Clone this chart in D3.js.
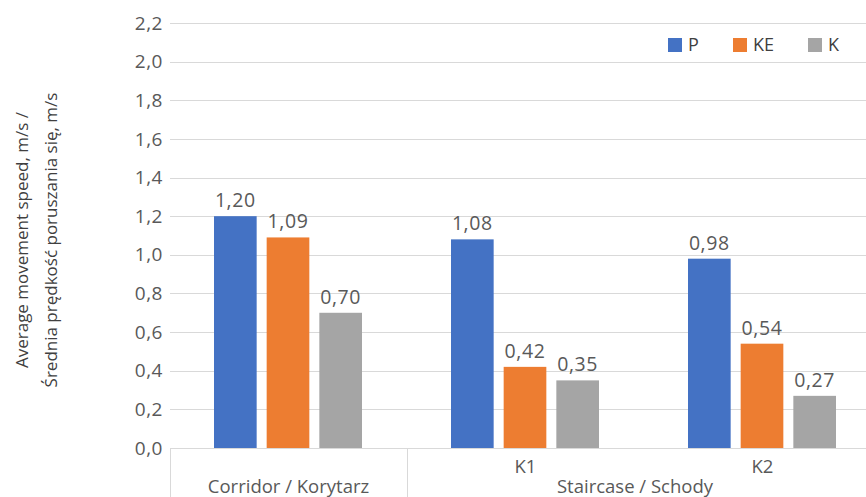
<!DOCTYPE html>
<html>
<head>
<meta charset="utf-8">
<script src="https://cdn.jsdelivr.net/npm/d3@7"></script>
<style>
  body { margin: 0; background: #fff; }
  svg text { font-family: "Open Sans", sans-serif; fill: #595959; }
</style>
</head>
<body>
<svg id="chart" width="866" height="497"></svg>
<script>
// data
var categories = ["Corridor", "K1", "K2"];
var series = ["P", "KE", "K"];
var valuesP = [1.20, 1.08, 0.98];
var valuesKE = [1.09, 0.42, 0.54];
var valuesK = [0.70, 0.35, 0.27];
var yTicks = [0, 0.2, 0.4, 0.6, 0.8, 1.0, 1.2, 1.4, 1.6, 1.8, 2.0, 2.2];
var subLabels = ["", "K1", "K2"];
var groupLabels = [
  { name: "Corridor / Korytarz", from: "Corridor", to: "Corridor" },
  { name: "Staircase / Schody", from: "K1", to: "K2" }
];

var colors = { P: "#4472C4", KE: "#ED7D31", K: "#A5A5A5" };

var svg = d3.select("#chart");
var plotLeft = 170, plotRight = 881, plotTop = 23, plotBottom = 448;

var x0 = d3.scaleBand().domain(categories).range([plotLeft, plotRight]).padding(0);
var x1 = d3.scaleBand().domain(series).range([44, x0.bandwidth() - 45]).paddingInner(0.19);
var y = d3.scaleLinear().domain([0, 2.2]).range([plotBottom, plotTop]);

var fmt = function(v, n) { return v.toFixed(n).replace(".", ","); };

// gridlines
svg.append("g")
  .selectAll("line")
  .data(yTicks.slice(1))
  .enter().append("line")
  .attr("x1", plotLeft).attr("x2", plotRight)
  .attr("y1", function(d) { return Math.round(y(d)) + 0.5; })
  .attr("y2", function(d) { return Math.round(y(d)) + 0.5; })
  .style("stroke", "#D9D9D9")
  .style("stroke-width", 1);

// y tick labels
svg.append("g")
  .selectAll("text")
  .data(yTicks)
  .enter().append("text")
  .attr("x", 163)
  .attr("y", function(d) { return y(d); })
  .attr("dy", "0.35em")
  .style("text-anchor", "end")
  .style("font-size", "19px")
  .style("letter-spacing", "0.5px")
  .text(function(d) { return fmt(d, 1); });

// bars
var rows = categories.map(function(c, i) {
  return { name: c, vals: [
    { key: "P", value: valuesP[i] },
    { key: "KE", value: valuesKE[i] },
    { key: "K", value: valuesK[i] }
  ] };
});

var group = svg.selectAll(".cat")
  .data(rows)
  .enter().append("g")
  .attr("class", "cat")
  .attr("transform", function(d) { return "translate(" + x0(d.name) + ",0)"; });

group.selectAll("rect")
  .data(function(d) { return d.vals; })
  .enter().append("rect")
  .attr("x", function(d) { return x1(d.key); })
  .attr("width", x1.bandwidth())
  .attr("y", function(d) { return y(d.value); })
  .attr("height", function(d) { return plotBottom - y(d.value); })
  .style("fill", function(d) { return colors[d.key]; });

group.selectAll("text.val")
  .data(function(d) { return d.vals; })
  .enter().append("text")
  .attr("class", "val")
  .attr("x", function(d) { return x1(d.key) + x1.bandwidth() / 2; })
  .attr("y", function(d) { return y(d.value) - 9; })
  .style("text-anchor", "middle")
  .style("font-size", "19.5px")
  .style("letter-spacing", "0.6px")
  .text(function(d) { return fmt(d.value, 2); });

// category axis
svg.append("line")
  .attr("x1", plotLeft).attr("x2", plotRight)
  .attr("y1", plotBottom + 0.5).attr("y2", plotBottom + 0.5)
  .style("stroke", "#D9D9D9");

[plotLeft, x0("K1")].forEach(function(xv) {
  svg.append("line")
    .attr("x1", xv + 0.5).attr("x2", xv + 0.5)
    .attr("y1", plotBottom).attr("y2", 497)
    .style("stroke", "#D9D9D9");
});

svg.append("g")
  .selectAll("text")
  .data(categories)
  .enter().append("text")
  .attr("x", function(d) { return x0(d) + x0.bandwidth() / 2; })
  .attr("y", 473)
  .style("text-anchor", "middle")
  .style("font-size", "18.5px")
  .text(function(d, i) { return subLabels[i]; });

svg.append("g")
  .selectAll("text")
  .data(groupLabels)
  .enter().append("text")
  .attr("x", function(d) { return (x0(d.from) + x0(d.to) + x0.bandwidth()) / 2 - (d.from === d.to ? 0 : 9); })
  .attr("y", 493)
  .style("text-anchor", "middle")
  .style("font-size", "18.5px")
  .text(function(d) { return d.name; });

// y axis title
var title = svg.append("text")
  .attr("transform", "translate(0,240) rotate(-90)")
  .style("text-anchor", "middle")
  .style("font-size", "17px")
  .style("fill", "#404040");
title.append("tspan").attr("x", 0).attr("y", 28).text("Average movement speed, m/s /");
title.append("tspan").attr("x", 0).attr("y", 57).text("Średnia prędkość poruszania się, m/s");

// legend
var legendX = { P: 668, KE: 733, K: 808 };
var legend = svg.selectAll(".legend")
  .data(series)
  .enter().append("g")
  .attr("class", "legend")
  .attr("transform", function(d) { return "translate(" + legendX[d] + ",38)"; });

legend.append("rect")
  .attr("width", 14).attr("height", 14)
  .style("fill", function(d) { return colors[d]; });

legend.append("text")
  .attr("x", 20)
  .attr("y", 7)
  .attr("dy", "0.35em")
  .style("font-size", "18px")
  .style("fill", "#404040")
  .text(function(d) { return d; });
</script>
</body>
</html>
